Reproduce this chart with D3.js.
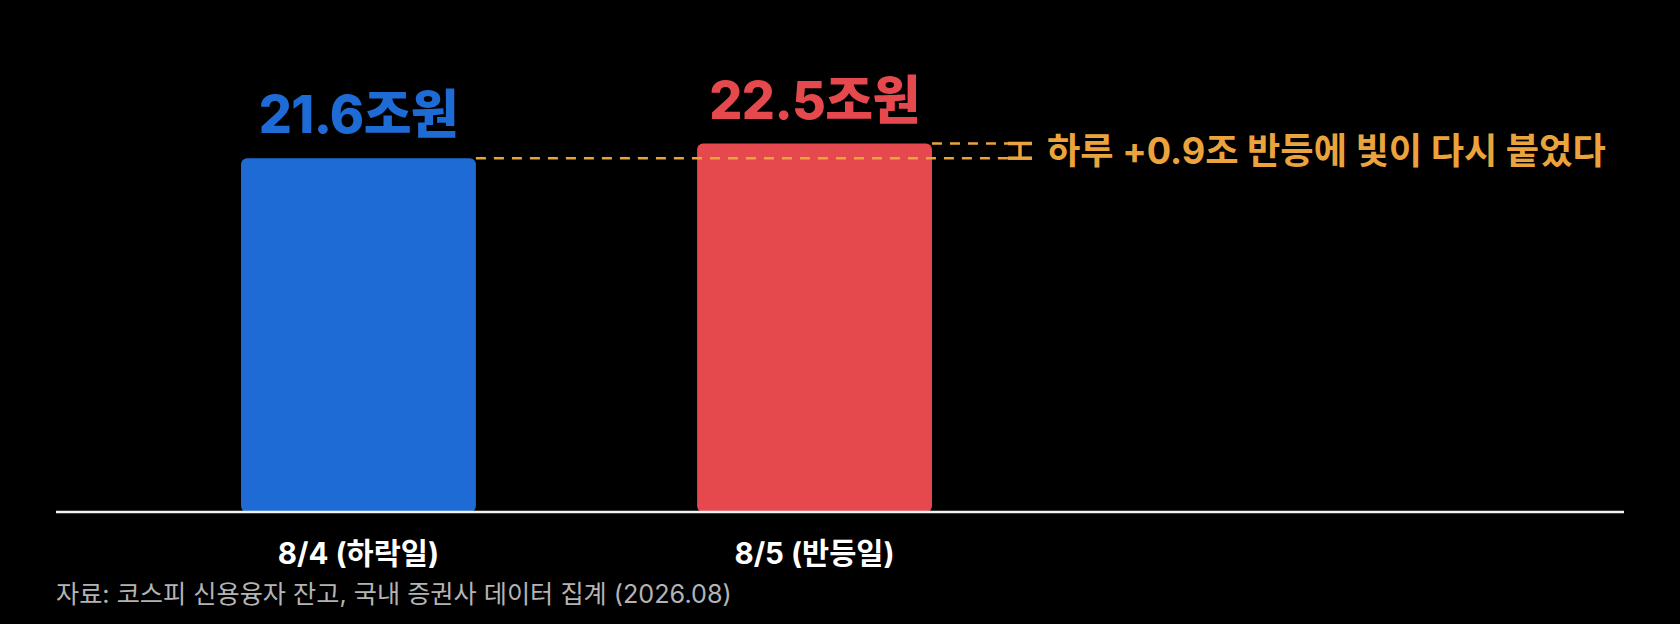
<!DOCTYPE html>
<html lang="ko">
<head>
<meta charset="utf-8">
<script src="https://cdn.jsdelivr.net/npm/d3@7/dist/d3.min.js"></script>
<style>
  html, body { margin: 0; padding: 0; background: #000; }
  svg { display: block; }
  text { font-family: Inter, "Noto Sans CJK KR", "Noto Sans", sans-serif; }
</style>
</head>
<body>
<svg id="chart" width="1680" height="624"></svg>
<script>
// ---- data ----
const categories = ["8/4 (하락일)", "8/5 (반등일)"];
const values = [21.6, 22.5];
const valueLabels = ["21.6조원", "22.5조원"];
const barColors = ["#1E6BD6", "#E5484D"];
const annotationText = "하루 +0.9조 반등에 빛이 다시 붙었다";
const sourceText = "자료: 코스피 신용융자 잔고, 국내 증권사 데이터 집계 (2026.08)";

// ---- layout ----
const W = 1680, H = 624;
const baseY = 511;
const orange = "#EBA43D";

const svg = d3.select("#chart");
svg.append("rect").attr("width", W).attr("height", H).attr("fill", "#000");

const x = d3.scaleBand()
  .domain(categories)
  .range([13, 1160])
  .paddingInner(0.485)
  .paddingOuter(0.5);

const y = d3.scaleLinear().domain([0, 27]).range([baseY, 70]);

// bars
svg.selectAll("rect.bar")
  .data(categories)
  .join("rect")
  .attr("class", "bar")
  .attr("x", d => x(d))
  .attr("y", (d, i) => y(values[i]))
  .attr("width", x.bandwidth())
  .attr("height", (d, i) => baseY - y(values[i]) + 1)
  .attr("rx", 6)
  .attr("fill", (d, i) => barColors[i]);

// value labels
svg.selectAll("text.val")
  .data(categories)
  .join("text")
  .attr("class", "val")
  .attr("x", d => x(d) + x.bandwidth() / 2)
  .attr("y", (d, i) => y(values[i]) - 25)
  .attr("text-anchor", "middle")
  .attr("font-size", 52)
  .attr("font-weight", 800)
  .attr("letter-spacing", -0.6)
  .attr("fill", (d, i) => barColors[i])
  .text((d, i) => valueLabels[i]);

// comparison dashed lines
const bracketX = 1020, capHalf = 12;
const dashEnd = bracketX - capHalf;
svg.append("line")
  .attr("x1", x(categories[0]) + x.bandwidth())
  .attr("x2", dashEnd)
  .attr("y1", y(values[0])).attr("y2", y(values[0]))
  .attr("stroke", orange).attr("stroke-width", 2.5)
  .attr("stroke-dasharray", "10,8");
svg.append("line")
  .attr("x1", x(categories[1]) + x.bandwidth())
  .attr("x2", dashEnd)
  .attr("y1", y(values[1])).attr("y2", y(values[1]))
  .attr("stroke", orange).attr("stroke-width", 2.5)
  .attr("stroke-dasharray", "10,8");

// bracket
const bt = y(values[1]), bb = y(values[0]);
const br = svg.append("g").attr("stroke", orange).attr("stroke-width", 3.5);
br.append("line").attr("x1", bracketX).attr("x2", bracketX).attr("y1", bt).attr("y2", bb);
br.append("line").attr("x1", bracketX - capHalf).attr("x2", bracketX + capHalf).attr("y1", bt).attr("y2", bt);
br.append("line").attr("x1", bracketX - capHalf).attr("x2", bracketX + capHalf).attr("y1", bb).attr("y2", bb);

// annotation
svg.append("text")
  .attr("x", 1047)
  .attr("y", (bt + bb) / 2)
  .attr("dominant-baseline", "central")
  .attr("font-size", 36.2)
  .attr("font-weight", 700)
  .attr("fill", orange)
  .text(annotationText);

// baseline axis
svg.append("line")
  .attr("x1", 56).attr("x2", 1624)
  .attr("y1", baseY + 1).attr("y2", baseY + 1)
  .attr("stroke", "#f2f2f2").attr("stroke-width", 2.5);

// category labels
svg.selectAll("text.cat")
  .data(categories)
  .join("text")
  .attr("class", "cat")
  .attr("x", d => x(d) + x.bandwidth() / 2)
  .attr("y", 564)
  .attr("text-anchor", "middle")
  .attr("font-size", 29.5)
  .attr("font-weight", 700)
  .attr("fill", "#ffffff")
  .text(d => d);

// source
svg.append("text")
  .attr("x", 56)
  .attr("y", 603)
  .attr("font-size", 25.2)
  .attr("font-weight", 400)
  .attr("fill", "#b4b4b4")
  .text(sourceText);
</script>
</body>
</html>
